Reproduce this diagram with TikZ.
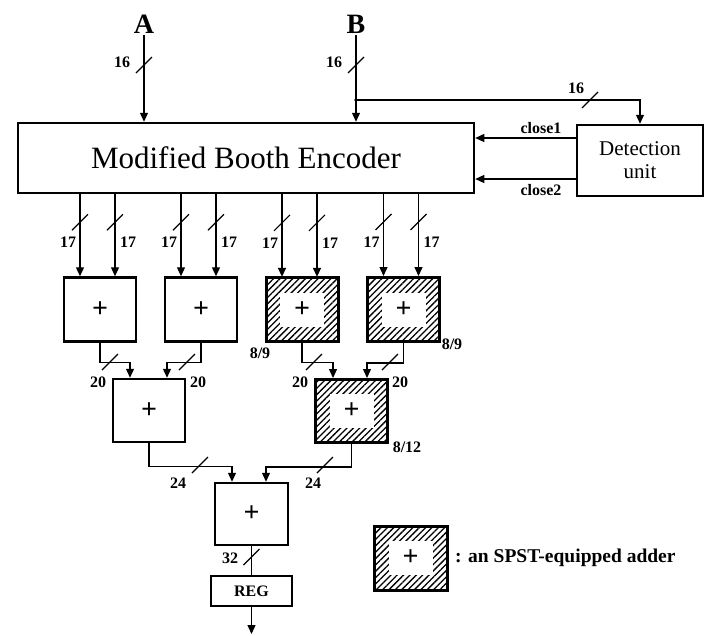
\documentclass[tikz,border=0pt]{standalone}
\usepackage{fontspec}
\setmainfont{Liberation Serif}
\usetikzlibrary{arrows.meta,patterns.meta,calc}
\begin{document}
\begin{tikzpicture}[x=1pt,y=-1pt,
  conn/.style={line width=1.3pt},
  arr/.style={conn,-{Triangle[length=9pt,width=8pt]}},
  bus/.style={line width=1.1pt},
  lbl/.style={font=\fontsize{16}{16}\selectfont\bfseries, inner sep=0pt},
  box/.style={draw, line width=2.5pt, inner sep=0pt},
  adder/.style={box, minimum width=72pt, minimum height=64pt, font=\fontsize{28}{28}\selectfont\bfseries},
  spst/.style={draw, line width=3pt, minimum width=72pt, minimum height=64pt, inner sep=0pt,
    pattern={Lines[angle=45,distance=4.5pt,line width=1.3pt]}},
  spstin/.style={fill=white, minimum width=44pt, minimum height=34pt, inner sep=0pt, font=\fontsize{28}{28}\selectfont\bfseries},
  busmark/.pic={\draw[bus] (-8,8) -- (8,-8);}
]
\useasboundingbox (0,0) rectangle (708,635);

% inputs
\node[font=\fontsize{28}{28}\selectfont\bfseries, inner sep=2pt] (A) at (144,24) {A};
\node[font=\fontsize{28}{28}\selectfont\bfseries, inner sep=2pt] (B) at (356,24) {B};

% encoder and detection unit
\node[box, minimum width=456pt, minimum height=70pt, font=\fontsize{31}{31}\selectfont] (enc) at (246,158) {Modified Booth Encoder};
\node[box, minimum width=126pt, minimum height=71pt, align=center, font=\fontsize{21}{23}\selectfont] (det) at (640,160.5) {Detection\\unit};

\draw[arr] (A.south) -- (A.south |- enc.north);
\draw[arr] (B.south) -- (B.south |- enc.north);
\pic at (144,65) {busmark};
\pic at (356,65) {busmark};
\node[lbl] at (122,62) {16};
\node[lbl] at (334,62) {16};

\coordinate (jB) at (356,100);
\fill (jB) circle (1.8pt);
\draw[arr] (jB) -| (det.north);
\pic at (590,100) {busmark};
\node[lbl] at (576,88) {16};

\coordinate (c1d) at ($(det.west)+(0,-22.5)$);
\coordinate (c2d) at ($(det.west)+(0,18.5)$);
\draw[arr] (c1d) -- (c1d -| enc.east);
\draw[arr] (c2d) -- (c2d -| enc.east);
\node[lbl] at (541,128) {close1};
\node[lbl] at (541,190) {close2};

% level 1 adders
\node[adder] (a1) at (100,309.5) {+};
\node[adder] (a2) at (201,309.5) {+};
\node[spst] (a3) at (302,309.5) {};
\node[spstin] (a3i) at (a3) {+};
\node[spst] (a4) at (403.5,309.5) {};
\node[spstin] (a4i) at (a4) {+};

\foreach \b in {a1,a2,a3,a4}{
  \coordinate (\b-l) at ($(\b.north)+(-20,0)$);
  \coordinate (\b-r) at ($(\b.north)+(15,0)$);
  \draw[arr] (\b-l |- enc.south) -- (\b-l);
  \draw[arr] (\b-r |- enc.south) -- (\b-r);
  \pic at ($(\b-l)+(0,-54)$) {busmark};
  \pic at ($(\b-r)+(0,-54)$) {busmark};
  \node[lbl] at ($(\b-l)+(-12,-34)$) {17};
  \node[lbl] at ($(\b-r)+(13,-34)$) {17};
}
\node[lbl] at (260,353) {8/9};
\node[lbl] at (452,344) {8/9};

% level 2 adders
\node[adder, minimum height=63pt] (b1) at (149,410.5) {+};
\node[spst, minimum height=63pt] (b2) at (351.5,411) {};
\node[spstin] (b2i) at (b2) {+};
\coordinate (b1-l) at ($(b1.north)+(-19,0)$);
\coordinate (b1-r) at ($(b1.north)+(18,0)$);
\coordinate (b2-l) at ($(b2.north)+(-18.5,0)$);
\coordinate (b2-r) at ($(b2.north)+(15.5,0)$);
\draw[arr] (a1.south) -- ++(0,20) -| (b1-l);
\draw[arr] (a2.south) -- ++(0,20) -| (b1-r);
\draw[arr] (a3.south) -- ++(0,20) -| (b2-l);
\draw[arr] (a4.south) -- ++(0,20) -| (b2-r);
\pic at (110,362) {busmark};
\pic at (187,362) {busmark};
\pic at (314,362) {busmark};
\pic at (390,362) {busmark};
\node[lbl] at (98,382) {20};
\node[lbl] at (198,382) {20};
\node[lbl] at (300,382) {20};
\node[lbl] at (400,382) {20};
\node[lbl] at (407,447) {8/12};

% level 3 adder
\node[adder, minimum width=73pt, minimum height=62pt] (c1) at (251.5,514) {+};
\coordinate (c1-l) at ($(c1.north)+(-19.5,0)$);
\coordinate (c1-r) at ($(c1.north)+(14.5,0)$);
\draw[arr] (b1.south) -- ++(0,23) -| (c1-l);
\draw[arr] (b2.south) -- ++(0,23) -| (c1-r);
\pic at (200,465) {busmark};
\pic at (325,465) {busmark};
\node[lbl] at (178,483) {24};
\node[lbl] at (313,483) {24};

% register
\node[box, line width=2pt, minimum width=81pt, minimum height=30pt, font=\fontsize{16}{16}\selectfont\bfseries] (reg) at (251.5,591) {REG};
\draw[conn] (c1.south) -- (reg.north);
\pic at (251.5,557) {busmark};
\node[lbl] at (230,558) {32};
\draw[arr] (reg.south) -- ++(0,27);

% legend
\node[spst, minimum width=73pt] (lg) at (410.5,558) {};
\node[spstin] (lgi) at (lg) {+};
\node[anchor=west, inner sep=0pt, font=\fontsize{19.5}{20}\selectfont\bfseries] (lgt) at (455,558) {: an SPST-equipped adder};
\end{tikzpicture}
\end{document}
